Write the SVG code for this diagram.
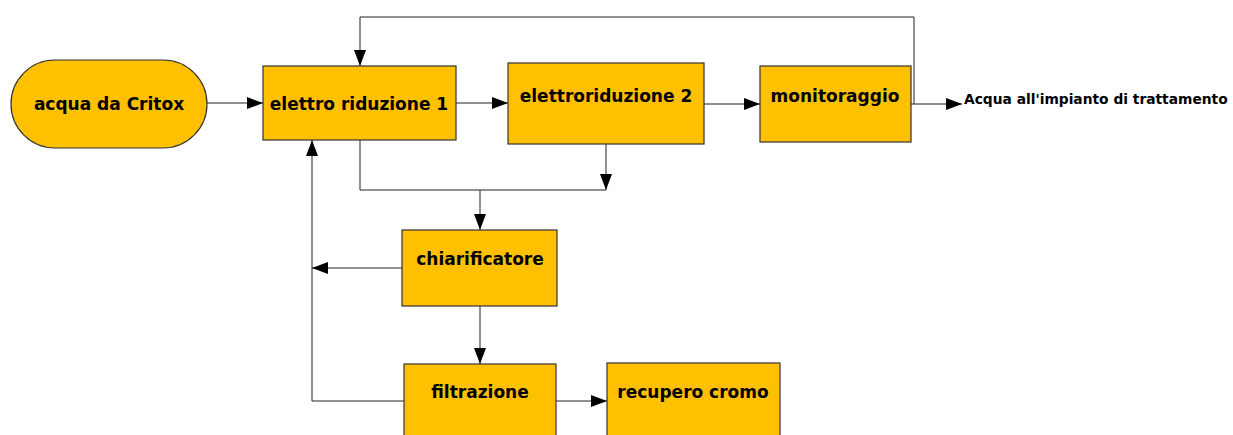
<svg xmlns="http://www.w3.org/2000/svg" width="1233" height="435" viewBox="0 0 1233 435">
<style>
.n{fill:#ffc000;stroke:#333;stroke-width:1.2}
.t{font-family:"DejaVu Sans",Verdana,sans-serif;font-weight:bold;font-size:17px;fill:#000;text-anchor:middle}
.l{font-family:"DejaVu Sans",Verdana,sans-serif;font-weight:bold;font-size:13.8px;fill:#000}
.c{fill:none;stroke:#222;stroke-width:1}
</style>
<defs>
<marker id="a" viewBox="0 0 16 12" refX="16" refY="6" markerWidth="16" markerHeight="12" markerUnits="userSpaceOnUse" orient="auto">
<path d="M0,0 L16,6 L0,12 z" fill="#000"/>
</marker>
</defs>
<rect width="1233" height="435" fill="#fff"/>
<g id="connectors">
<path class="c" d="M207,103 H263" marker-end="url(#a)"/>
<path class="c" d="M456,103 H508" marker-end="url(#a)"/>
<path class="c" d="M704,104 H760" marker-end="url(#a)"/>
<path class="c" d="M911,104 H962" marker-end="url(#a)"/>
<path class="c" d="M914,104 V17 H360 V66" marker-end="url(#a)"/>
<path class="c" d="M360,140 V190 H606"/>
<path class="c" d="M606,144 V190" marker-end="url(#a)"/>
<path class="c" d="M480,190 V230" marker-end="url(#a)"/>
<path class="c" d="M402,268 H312" marker-end="url(#a)"/>
<path class="c" d="M404,401 H312 V140" marker-end="url(#a)"/>
<path class="c" d="M480,306 V364" marker-end="url(#a)"/>
<path class="c" d="M556,401 H607" marker-end="url(#a)"/>
</g>
<g id="acqua-critox">
<rect class="n" x="11" y="60" width="196" height="88" rx="44" ry="44"/>
<text class="t" x="109" y="110">acqua da Critox</text>
</g>
<g id="elettro-riduzione-1">
<rect class="n" x="263" y="66" width="193" height="74"/>
<text class="t" x="359" y="110">elettro riduzione 1</text>
</g>
<g id="elettroriduzione-2">
<rect class="n" x="508" y="63" width="196" height="81"/>
<text class="t" x="606" y="102">elettroriduzione 2</text>
</g>
<g id="monitoraggio">
<rect class="n" x="760" y="66" width="151" height="76"/>
<text class="t" x="835" y="102">monitoraggio</text>
</g>
<g id="uscita">
<text class="l" x="964" y="104">Acqua all'impianto di trattamento</text>
</g>
<g id="chiarificatore">
<rect class="n" x="402" y="230" width="155" height="76"/>
<text class="t" x="480" y="265">chiarificatore</text>
</g>
<g id="filtrazione">
<rect class="n" x="404" y="364" width="152" height="80"/>
<text class="t" x="480" y="398">filtrazione</text>
</g>
<g id="recupero-cromo">
<rect class="n" x="607" y="363" width="173" height="80"/>
<text class="t" x="693" y="398">recupero cromo</text>
</g>
</svg>
